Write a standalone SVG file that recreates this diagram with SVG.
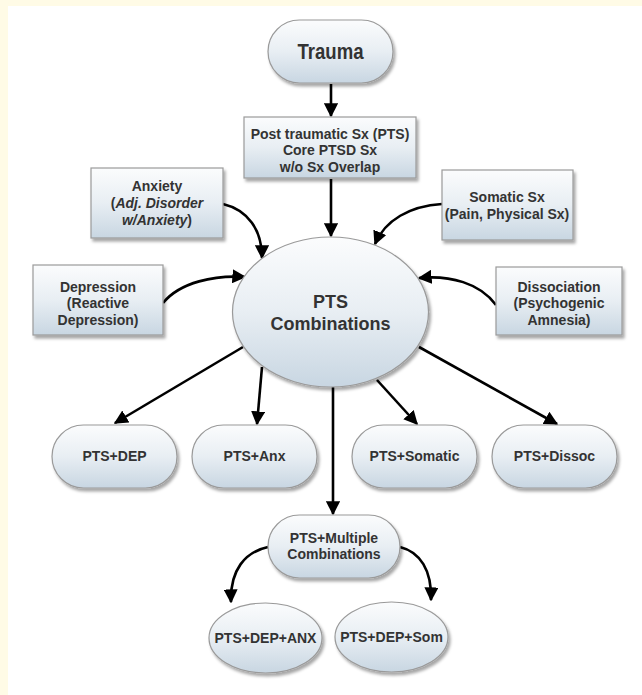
<svg xmlns="http://www.w3.org/2000/svg" width="642" height="695" viewBox="0 0 642 695">
<defs>
<linearGradient id="g" x1="0" y1="0" x2="0" y2="1">
<stop offset="0" stop-color="#fbfcfd"/>
<stop offset="0.5" stop-color="#e8eef3"/>
<stop offset="1" stop-color="#c8d6e2"/>
</linearGradient>
<filter id="sh" x="-10%" y="-10%" width="125%" height="130%">
<feDropShadow dx="2" dy="3" stdDeviation="1.5" flood-color="#000" flood-opacity="0.35"/>
</filter>
<marker id="ah" viewBox="0 0 10 10" refX="9" refY="5" markerWidth="5.4" markerHeight="5.4" orient="auto" markerUnits="strokeWidth">
<path d="M0,0 L10,5 L0,10 z" fill="#000"/>
</marker>
</defs>
<style>
.n{fill:url(#g);stroke:#9a9a9a;stroke-width:1.2;filter:url(#sh)}
.t{font-family:"Liberation Sans",Arial,sans-serif;font-weight:bold;fill:#333;text-anchor:middle}
.s{font-size:14px}
.c{fill:none;stroke:#000;stroke-width:2.6;marker-end:url(#ah)}
</style>
<rect width="642" height="695" fill="#fff"/>
<rect x="0" y="0" width="642" height="6" fill="#fffbe6"/>
<rect x="0" y="0" width="8" height="695" fill="#fffbe6"/>

<g id="connectors">
<path class="c" d="M331,84 L331,116"/>
<path class="c" d="M331,179 L331,236"/>
<path class="c" d="M223,204 C248,210 262,230 262,258"/>
<path class="c" d="M163,303 C180,282 215,275 245,277"/>
<path class="c" d="M442,204 C410,206 385,220 375,244"/>
<path class="c" d="M496,305 C480,283 450,275 419,278"/>
<path class="c" d="M243,347 L115,423"/>
<path class="c" d="M262,367 L257,424"/>
<path class="c" d="M377,380 L417,424"/>
<path class="c" d="M419,347 L557,424"/>
<path class="c" d="M333,387 L333,514"/>
<path class="c" d="M268,547 C245,552 230,570 231,602"/>
<path class="c" d="M400,547 C420,552 432,570 431,600"/>
</g>

<g id="trauma">
<rect class="n" x="268" y="20" width="125" height="63" rx="31.5"/>
<text class="t" x="330.5" y="59" textLength="66" lengthAdjust="spacingAndGlyphs" style="font-size:22px">Trauma</text>
</g>

<g id="core">
<rect class="n" x="244" y="117" width="172" height="61"/>
<text class="t s" x="330" y="139">Post traumatic Sx (PTS)</text>
<text class="t s" x="330" y="155">Core PTSD Sx</text>
<text class="t s" x="330" y="172">w/o Sx Overlap</text>
</g>

<g id="anxiety">
<rect class="n" x="91" y="168" width="132" height="70"/>
<text class="t s" x="157" y="191">Anxiety</text>
<text class="t s" x="157" y="208">(<tspan font-style="italic">Adj. Disorder</tspan></text>
<text class="t s" x="157" y="225"><tspan font-style="italic">w/Anxiety</tspan>)</text>
</g>

<g id="depression">
<rect class="n" x="33" y="265" width="130" height="70"/>
<text class="t s" x="98" y="292">Depression</text>
<text class="t s" x="98" y="308">(Reactive</text>
<text class="t s" x="98" y="325">Depression)</text>
</g>

<g id="somatic">
<rect class="n" x="442" y="170" width="131" height="70"/>
<text class="t s" x="507" y="202">Somatic Sx</text>
<text class="t s" x="507" y="219">(Pain, Physical Sx)</text>
</g>

<g id="dissociation">
<rect class="n" x="496" y="267" width="126" height="68"/>
<text class="t s" x="559" y="292">Dissociation</text>
<text class="t s" x="559" y="308">(Psychogenic</text>
<text class="t s" x="559" y="325">Amnesia)</text>
</g>

<g id="pts">
<ellipse class="n" cx="330.5" cy="312" rx="98" ry="75"/>
<text class="t" x="330.5" y="308" font-size="18">PTS</text>
<text class="t" x="330.5" y="330" font-size="18">Combinations</text>
</g>

<g id="ptsdep">
<rect class="n" x="52" y="425" width="125" height="63" rx="31.5"/>
<text class="t s" x="114.5" y="461">PTS+DEP</text>
</g>
<g id="ptsanx">
<rect class="n" x="192" y="425" width="125" height="63" rx="31.5"/>
<text class="t s" x="254.5" y="461">PTS+Anx</text>
</g>
<g id="ptssom">
<rect class="n" x="352" y="425" width="125" height="63" rx="31.5"/>
<text class="t s" x="414.5" y="461">PTS+Somatic</text>
</g>
<g id="ptsdis">
<rect class="n" x="492" y="425" width="125" height="63" rx="31.5"/>
<text class="t s" x="554.5" y="461">PTS+Dissoc</text>
</g>

<g id="multiple">
<rect class="n" x="268" y="515" width="132" height="63" rx="31.5"/>
<text class="t s" x="334" y="543">PTS+Multiple</text>
<text class="t s" x="334" y="559">Combinations</text>
</g>

<g id="depanx">
<ellipse class="n" cx="265.5" cy="638" rx="56.5" ry="35"/>
<text class="t s" x="265.5" y="643">PTS+DEP+ANX</text>
</g>
<g id="depsom">
<ellipse class="n" cx="391.5" cy="637" rx="56.5" ry="35"/>
<text class="t s" x="391.5" y="642">PTS+DEP+Som</text>
</g>
</svg>
